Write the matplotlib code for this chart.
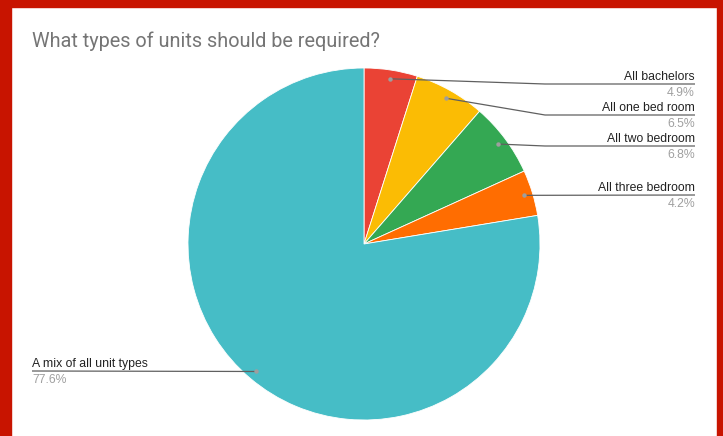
import numpy as np
import matplotlib.pyplot as plt

# survey results
categories = ["All bachelors", "All one bed room", "All two bedroom",
              "All three bedroom", "A mix of all unit types"]
shares = [4.9, 6.5, 6.8, 4.2, 77.6]
colors = ["#EA4335", "#FBBC04", "#34A853", "#FF6D01", "#46BDC6"]

W, H = 723, 436
CX, CY, R = 364, 244, 176   # pie centre / radius in px (y down)

# label rows: y of the leader line (px, y down) and which side
label_rows = [84, 115, 146, 195, 371]
label_side = ["right", "right", "right", "right", "left"]
RIGHT_X, LEFT_X, ELBOW_X = 695, 32, 545


def Y(y):
    return H - y


fig = plt.figure(figsize=(W / 100, H / 100), dpi=100)
fig.patch.set_facecolor("white")
ax = fig.add_axes([0, 0, 1, 1])

wedges, _ = ax.pie(shares, colors=colors, startangle=90, counterclock=False,
                   center=(CX, Y(CY)), radius=R,
                   wedgeprops=dict(edgecolor="white", linewidth=0.6))
ax.set_xlim(0, W)
ax.set_ylim(0, H)
ax.set_aspect("auto")
ax.axis("off")

for w, name, val, ly, side in zip(wedges, categories, shares, label_rows, label_side):
    mid = np.deg2rad((w.theta1 + w.theta2) / 2)
    dx = CX + 0.95 * R * np.cos(mid)
    dy = Y(CY) + 0.95 * R * np.sin(mid)
    if side == "right":
        if abs(Y(ly) - dy) > 1:
            xs, ys = [dx, ELBOW_X, RIGHT_X], [dy, Y(ly), Y(ly)]
        else:
            xs, ys = [dx, RIGHT_X], [dy, Y(ly)]
        tx, ha = RIGHT_X, "right"
    else:
        xs, ys = [dx, LEFT_X], [dy, Y(ly)]
        tx, ha = LEFT_X, "left"
    ax.plot(xs, ys, color="#606060", lw=0.9, solid_capstyle="butt", zorder=3)
    ax.plot(dx, dy, "o", ms=3.2, color="#9e9e9e", mec="none", zorder=4)
    ax.text(tx, Y(ly) + 4, name, ha=ha, va="baseline", fontsize=8.8,
            family="Liberation Sans", color="#222222")
    ax.text(tx, Y(ly) - 3, f"{val}%", ha=ha, va="top", fontsize=8.8,
            family="Liberation Sans", color="#a0a0a0")

fig.text(32 / W, 1 - 47 / H, "What types of units should be required?",
         ha="left", va="baseline", fontsize=14.3, family="Roboto", color="#757575")

# red frame around the chart
red = "#C81400"
fig.patches.append(plt.Rectangle((0, 1 - 7 / H), 1, 7 / H, transform=fig.transFigure,
                                 color=red, zorder=10))
fig.patches.append(plt.Rectangle((0, 0), 11 / W, 1, transform=fig.transFigure,
                                 color=red, zorder=10))
fig.patches.append(plt.Rectangle((717 / W, 0), 6 / W, 1, transform=fig.transFigure,
                                 color=red, zorder=10))

fig.savefig("out.png", dpi=100, facecolor="white")
